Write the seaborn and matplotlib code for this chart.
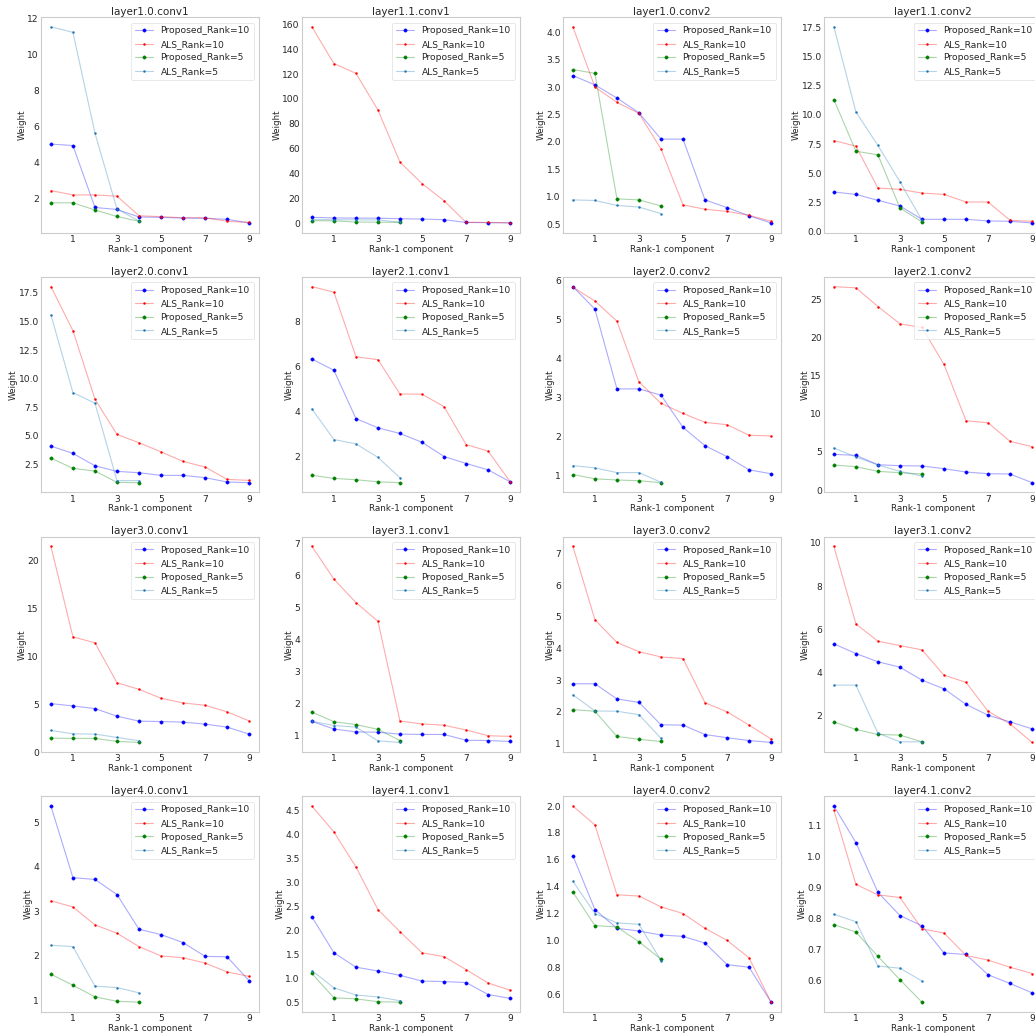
import numpy as np
import pandas as pd
import matplotlib
matplotlib.use("Agg")
import matplotlib.pyplot as plt
import seaborn as sns

layer_names = [
    "layer1.0.conv1", "layer1.1.conv1", "layer1.0.conv2", "layer1.1.conv2",
    "layer2.0.conv1", "layer2.1.conv1", "layer2.0.conv2", "layer2.1.conv2",
    "layer3.0.conv1", "layer3.1.conv1", "layer3.0.conv2", "layer3.1.conv2",
    "layer4.0.conv1", "layer4.1.conv1", "layer4.0.conv2", "layer4.1.conv2",
]

series_labels = ["Proposed_Rank=10", "ALS_Rank=10", "Proposed_Rank=5", "ALS_Rank=5"]

proposed_rank10 = [
    [5.03, 4.95, 1.50, 1.39, 0.97, 0.95, 0.91, 0.90, 0.84, 0.64],
    [5.1, 4.6, 4.5, 4.4, 4.0, 3.7, 3.2, 1.0, 0.8, 0.6],
    [3.21, 3.04, 2.80, 2.53, 2.05, 2.05, 0.94, 0.80, 0.65, 0.52],
    [3.41, 3.21, 2.70, 2.22, 1.08, 1.08, 1.08, 0.94, 0.91, 0.77],
    [4.10, 3.46, 2.38, 1.89, 1.77, 1.54, 1.54, 1.34, 0.96, 0.90],
    [6.34, 5.84, 3.70, 3.29, 3.04, 2.65, 2.02, 1.71, 1.43, 0.90],
    [5.85, 5.27, 3.22, 3.22, 3.06, 2.23, 1.76, 1.48, 1.14, 1.04],
    [4.68, 4.55, 3.32, 3.19, 3.15, 2.80, 2.36, 2.14, 2.10, 0.96],
    [5.05, 4.81, 4.53, 3.74, 3.22, 3.18, 3.12, 2.91, 2.60, 1.87],
    [1.44, 1.20, 1.11, 1.10, 1.04, 1.03, 1.03, 0.85, 0.84, 0.81],
    [2.88, 2.88, 2.40, 2.29, 1.58, 1.57, 1.27, 1.17, 1.08, 1.02],
    [5.33, 4.88, 4.50, 4.25, 3.65, 3.25, 2.53, 2.03, 1.72, 1.40],
    [5.37, 3.76, 3.72, 3.38, 2.60, 2.48, 2.30, 1.99, 1.98, 1.44],
    [2.29, 1.54, 1.24, 1.16, 1.07, 0.95, 0.94, 0.92, 0.67, 0.59],
    [1.63, 1.23, 1.09, 1.07, 1.04, 1.03, 0.98, 0.82, 0.80, 0.54],
    [1.161, 1.044, 0.884, 0.810, 0.777, 0.690, 0.685, 0.620, 0.592, 0.562],
]

als_rank10 = [
    [2.44, 2.20, 2.20, 2.13, 1.04, 0.99, 0.93, 0.93, 0.73, 0.67],
    [157.9, 128.4, 120.6, 91.1, 49.3, 32.2, 18.4, 1.1, 1.0, 0.8],
    [4.10, 3.00, 2.72, 2.52, 1.87, 0.85, 0.77, 0.73, 0.66, 0.55],
    [7.81, 7.33, 3.75, 3.64, 3.32, 3.21, 2.56, 2.56, 0.99, 0.91],
    [18.05, 14.19, 8.20, 5.12, 4.39, 3.60, 2.76, 2.27, 1.19, 1.10],
    [9.55, 9.30, 6.44, 6.31, 4.79, 4.78, 4.23, 2.55, 2.26, 0.91],
    [5.83, 5.48, 4.96, 3.40, 2.85, 2.59, 2.36, 2.30, 2.03, 2.01],
    [26.70, 26.53, 24.08, 21.81, 21.33, 16.48, 9.09, 8.83, 6.38, 5.68],
    [21.46, 12.01, 11.39, 7.23, 6.54, 5.61, 5.12, 4.88, 4.19, 3.25],
    [6.92, 5.89, 5.16, 4.57, 1.45, 1.36, 1.32, 1.17, 0.99, 0.97],
    [7.24, 4.91, 4.19, 3.90, 3.73, 3.68, 2.28, 1.99, 1.57, 1.13],
    [9.84, 6.25, 5.45, 5.25, 5.05, 3.88, 3.55, 2.21, 1.63, 0.77],
    [3.24, 3.10, 2.70, 2.51, 2.21, 2.00, 1.96, 1.84, 1.64, 1.54],
    [4.60, 4.06, 3.33, 2.44, 1.98, 1.54, 1.46, 1.19, 0.91, 0.76],
    [2.00, 1.86, 1.34, 1.33, 1.25, 1.20, 1.09, 1.00, 0.87, 0.54],
    [1.147, 0.910, 0.876, 0.868, 0.767, 0.754, 0.682, 0.667, 0.644, 0.624],
]

proposed_rank5 = [
    [1.76, 1.76, 1.36, 1.00, 0.73],
    [2.4, 2.3, 1.3, 1.2, 1.0],
    [3.32, 3.25, 0.96, 0.94, 0.83],
    [11.31, 6.90, 6.59, 2.05, 0.85],
    [3.05, 2.15, 1.92, 0.93, 0.90],
    [1.19, 1.05, 0.99, 0.90, 0.86],
    [1.02, 0.91, 0.88, 0.86, 0.81],
    [3.28, 3.06, 2.45, 2.27, 2.10],
    [1.45, 1.42, 1.42, 1.11, 1.00],
    [1.73, 1.43, 1.34, 1.19, 0.84],
    [2.06, 2.01, 1.21, 1.12, 1.05],
    [1.72, 1.37, 1.14, 1.11, 0.80],
    [1.59, 1.34, 1.08, 0.98, 0.96],
    [1.11, 0.60, 0.58, 0.52, 0.51],
    [1.36, 1.11, 1.10, 0.99, 0.86],
    [0.781, 0.757, 0.679, 0.604, 0.532],
]

als_rank5 = [
    [11.56, 11.25, 5.64, 1.41, 0.75],
    [3.3, 3.2, 3.1, 3.0, 1.2],
    [0.94, 0.93, 0.84, 0.81, 0.69],
    [17.53, 10.26, 7.39, 4.29, 0.99],
    [15.58, 8.78, 7.85, 1.08, 1.08],
    [4.13, 2.77, 2.58, 1.98, 1.08],
    [1.25, 1.19, 1.07, 1.07, 0.82],
    [5.51, 4.33, 3.28, 2.45, 1.84],
    [2.25, 1.90, 1.87, 1.52, 1.18],
    [1.44, 1.31, 1.26, 0.83, 0.78],
    [2.53, 2.02, 2.01, 1.90, 1.15],
    [3.42, 3.42, 1.20, 0.80, 0.80],
    [2.24, 2.21, 1.32, 1.29, 1.17],
    [1.17, 0.81, 0.66, 0.62, 0.54],
    [1.44, 1.20, 1.13, 1.12, 0.85],
    [0.814, 0.790, 0.648, 0.641, 0.600],
]

xtick_values = [1, 3, 5, 7, 9]

sns.set_style("whitegrid", {"axes.grid": False, "axes.edgecolor": "#cccccc"})
plt.rcParams["font.family"] = ["DejaVu Sans"]

styles = [
    dict(base=(0.0, 0.0, 1.0), marker="o", ms=2.4),
    dict(base=(1.0, 0.0, 0.0), marker=".", ms=2.8),
    dict(base=(0.0, 0.5, 0.0), marker="o", ms=2.4),
    dict(base=(0.12, 0.47, 0.71), marker=".", ms=2.8),
]

fig, axes = plt.subplots(4, 4, figsize=(10.35, 10.34), dpi=100)
fig.subplots_adjust(left=41 / 1035, right=1042 / 1035,
                    top=1 - 17 / 1034, bottom=1 - 1012 / 1034,
                    wspace=0.197, hspace=0.204)

all_series = [proposed_rank10, als_rank10, proposed_rank5, als_rank5]

for i, ax in enumerate(axes.flat):
    for s, (data, label, st) in enumerate(zip(all_series, series_labels, styles)):
        vals = data[i]
        df = pd.DataFrame({"component": np.arange(len(vals)), "weight": vals})
        line_col = st["base"] + (0.33,)
        sns.lineplot(data=df, x="component", y="weight", ax=ax,
                     color=line_col, marker=st["marker"], markersize=st["ms"],
                     markerfacecolor=st["base"], markeredgecolor=st["base"],
                     markeredgewidth=0.3, linewidth=0.8, label=label)
    ax.set_title(layer_names[i], fontsize=7.5, pad=1.5)
    ax.set_xlabel("Rank-1 component", fontsize=6.4, labelpad=0.5)
    ax.set_ylabel("Weight", fontsize=6.3, labelpad=0.3)
    ax.set_xticks(xtick_values)
    ax.tick_params(axis="both", labelsize=6.6, length=0)
    ax.tick_params(axis="x", pad=1.5)
    ax.tick_params(axis="y", pad=1.5)
    for sp in ax.spines.values():
        sp.set_linewidth(0.8)
        sp.set_color("#cccccc")
    leg = ax.legend(loc="upper right", fontsize=6.6, frameon=True,
                    borderaxespad=0.6, handlelength=2.0)
    leg.get_frame().set_edgecolor("#dddddd")
    leg.get_frame().set_linewidth(0.6)

fig.savefig("out.png", dpi=100)
